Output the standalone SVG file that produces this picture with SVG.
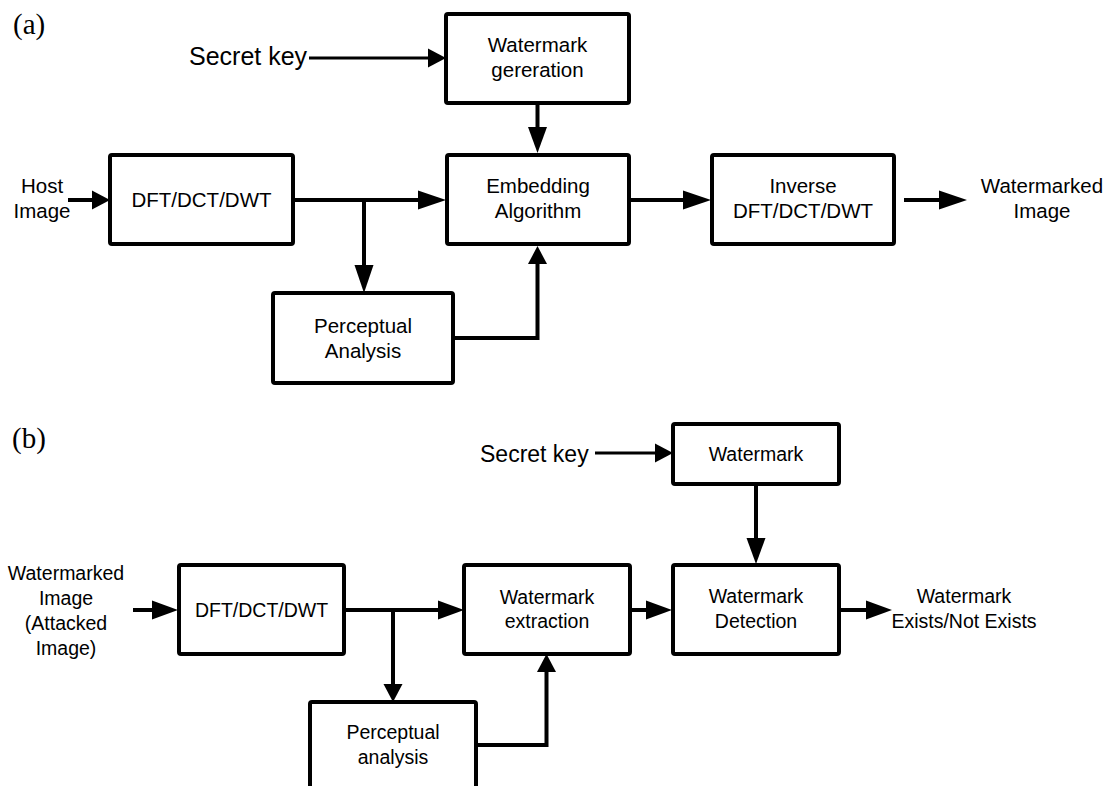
<svg xmlns="http://www.w3.org/2000/svg" width="1110" height="786" viewBox="0 0 1110 786">
  <style>
    .box { fill: #fff; stroke: #000; stroke-width: 4; }
    .wire { fill: none; stroke: #000; stroke-width: 4; stroke-linejoin: miter; }
    .wire-thin { fill: none; stroke: #000; stroke-width: 3; }
    .lbl { font-family: "Liberation Sans", Arial, sans-serif; fill: #000; text-anchor: middle; }
    .a { font-size: 20.5px; }
    .b { font-size: 19.5px; }
    .key { font-family: "Liberation Sans", Arial, sans-serif; fill: #000; }
    .tag { font-family: "Liberation Serif", "Times New Roman", serif; font-size: 29px; fill: #000; }
  </style>
  <defs>
    <marker id="head-long" markerUnits="userSpaceOnUse" viewBox="0 -10 30 20" markerWidth="30" markerHeight="20" refX="0" refY="0" orient="auto" overflow="visible">
      <path d="M0,-9.5 L28,0 L0,9.5 Z" fill="#000"/>
    </marker>
    <marker id="head-mid" markerUnits="userSpaceOnUse" viewBox="0 -10 30 20" markerWidth="30" markerHeight="20" refX="0" refY="0" orient="auto" overflow="visible">
      <path d="M0,-9.5 L26,0 L0,9.5 Z" fill="#000"/>
    </marker>
    <marker id="head-small" markerUnits="userSpaceOnUse" viewBox="0 -10 30 20" markerWidth="30" markerHeight="20" refX="0" refY="0" orient="auto" overflow="visible">
      <path d="M0,-9.5 L18,0 L0,9.5 Z" fill="#000"/>
    </marker>
  </defs>
  <rect width="1110" height="786" fill="#fff"/>

  <!-- panel labels -->
  <text class="tag" x="13" y="34">(a)</text>
  <text class="tag" x="12" y="448">(b)</text>

  <!-- (a) embedding -->
  <g id="a-secret-key">
    <text class="key" x="189" y="65" font-size="25">Secret key</text>
  </g>
  <g id="a-host-image">
    <text class="lbl a" x="42" y="193">Host</text>
    <text class="lbl a" x="42" y="218">Image</text>
  </g>
  <g id="a-watermark-generation">
    <rect class="box" x="446" y="14" width="183" height="89" rx="2"/>
    <text class="lbl a" x="537.5" y="52">Watermark</text>
    <text class="lbl a" x="537.5" y="77">gereration</text>
  </g>
  <g id="a-transform">
    <rect class="box" x="110" y="155" width="183" height="89" rx="2"/>
    <text class="lbl a" x="201.5" y="207">DFT/DCT/DWT</text>
  </g>
  <g id="a-embedding">
    <rect class="box" x="447" y="155" width="182" height="89" rx="2"/>
    <text class="lbl a" x="538" y="193">Embedding</text>
    <text class="lbl a" x="538" y="218">Algorithm</text>
  </g>
  <g id="a-inverse">
    <rect class="box" x="712" y="155" width="182" height="89" rx="2"/>
    <text class="lbl a" x="803" y="193">Inverse</text>
    <text class="lbl a" x="803" y="218">DFT/DCT/DWT</text>
  </g>
  <g id="a-perceptual">
    <rect class="box" x="273" y="293" width="180" height="90" rx="2"/>
    <text class="lbl a" x="363" y="333">Perceptual</text>
    <text class="lbl a" x="363" y="358">Analysis</text>
  </g>
  <g id="a-output">
    <text class="lbl a" x="1042" y="193">Watermarked</text>
    <text class="lbl a" x="1042" y="218">Image</text>
  </g>

  <!-- (b) detection -->
  <g id="b-secret-key">
    <text class="key" x="480" y="462" font-size="23">Secret key</text>
  </g>
  <g id="b-input">
    <text class="lbl b" x="66" y="580">Watermarked</text>
    <text class="lbl b" x="66" y="605">Image</text>
    <text class="lbl b" x="66" y="630">(Attacked</text>
    <text class="lbl b" x="66" y="655">Image)</text>
  </g>
  <g id="b-watermark">
    <rect class="box" x="673" y="424" width="166" height="60" rx="2"/>
    <text class="lbl b" x="756" y="460.5">Watermark</text>
  </g>
  <g id="b-transform">
    <rect class="box" x="179" y="565" width="165" height="89" rx="2"/>
    <text class="lbl b" x="261.5" y="617">DFT/DCT/DWT</text>
  </g>
  <g id="b-extraction">
    <rect class="box" x="464" y="565" width="166" height="89" rx="2"/>
    <text class="lbl b" x="547" y="604">Watermark</text>
    <text class="lbl b" x="547" y="628">extraction</text>
  </g>
  <g id="b-detection">
    <rect class="box" x="673" y="565" width="166" height="89" rx="2"/>
    <text class="lbl b" x="756" y="603">Watermark</text>
    <text class="lbl b" x="756" y="628">Detection</text>
  </g>
  <g id="b-perceptual">
    <rect class="box" x="310" y="702" width="166" height="110" rx="2"/>
    <text class="lbl b" x="393" y="739">Perceptual</text>
    <text class="lbl b" x="393" y="764">analysis</text>
  </g>
  <g id="b-output">
    <text class="lbl b" x="964" y="603">Watermark</text>
    <text class="lbl b" x="964" y="628">Exists/Not Exists</text>
  </g>

  <g id="connectors">
    <!-- (a) -->
    <path class="wire-thin" d="M309,58 H428" marker-end="url(#head-small)"/>
    <path class="wire" d="M537.5,103 V127" marker-end="url(#head-mid)"/>
    <path class="wire" d="M68,200 H92" marker-end="url(#head-small)"/>
    <path class="wire" d="M293,200 H418" marker-end="url(#head-long)"/>
    <path class="wire" d="M364,200 V265" marker-end="url(#head-long)"/>
    <path class="wire" d="M453,338 H537.5 V264" marker-end="url(#head-small)"/>
    <path class="wire" d="M629,200 H683" marker-end="url(#head-long)"/>
    <path class="wire" d="M904,200 H939" marker-end="url(#head-long)"/>
    <!-- (b) -->
    <path class="wire-thin" d="M595,453 H655" marker-end="url(#head-small)"/>
    <path class="wire" d="M133,610 H152" marker-end="url(#head-mid)"/>
    <path class="wire" d="M344,610 H438" marker-end="url(#head-mid)"/>
    <path class="wire" d="M393,610 V684" marker-end="url(#head-small)"/>
    <path class="wire" d="M476,745 H546.5 V672" marker-end="url(#head-small)"/>
    <path class="wire" d="M756,484 V538" marker-end="url(#head-mid)"/>
    <path class="wire" d="M630,610 H646" marker-end="url(#head-mid)"/>
    <path class="wire" d="M839,610 H866" marker-end="url(#head-mid)"/>
  </g>
</svg>
